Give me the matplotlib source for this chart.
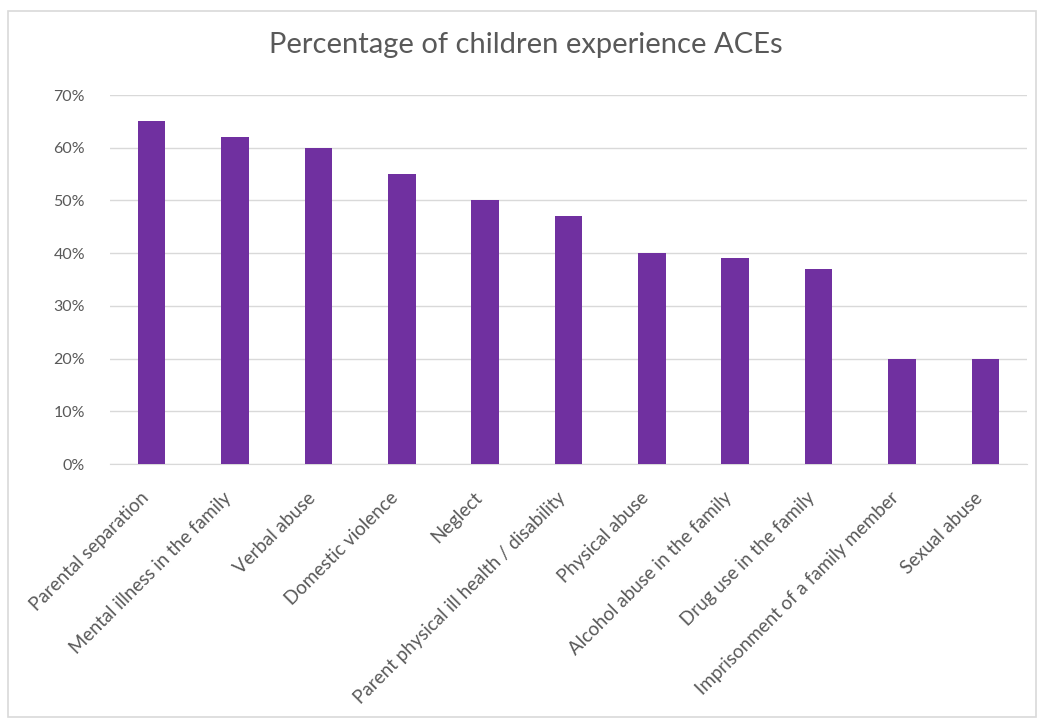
import matplotlib
matplotlib.use("Agg")
import matplotlib.pyplot as plt
from matplotlib.ticker import PercentFormatter
from matplotlib.patches import Rectangle
from matplotlib.transforms import ScaledTranslation

categories = [
    "Parental separation",
    "Mental illness in the family",
    "Verbal abuse",
    "Domestic violence",
    "Neglect",
    "Parent physical ill health / disability",
    "Physical abuse",
    "Alcohol abuse in the family",
    "Drug use in the family",
    "Imprisonment of a family member",
    "Sexual abuse",
]
values = [0.65, 0.62, 0.60, 0.55, 0.50, 0.47, 0.40, 0.39, 0.37, 0.20, 0.20]
yticks = [0.0, 0.1, 0.2, 0.3, 0.4, 0.5, 0.6, 0.7]
title = "Percentage of children experience ACEs"

plt.rcParams['font.family'] = ['Lato', 'DejaVu Sans']

W, H = 1039, 720
fig = plt.figure(figsize=(W / 100, H / 100), dpi=100)
fig.patch.set_facecolor("white")

# outer chart border
fig.add_artist(Rectangle((8 / W, 3 / H), (1036 - 8) / W, (709 - 3) / H,
                         transform=fig.transFigure, fill=False,
                         edgecolor="#d9d9d9", linewidth=1.2))

ax = fig.add_axes([110 / W, 1 - 464 / H, (1027 - 110) / W, (464 - 95) / H])
x = list(range(len(categories)))
ax.bar(x, values, width=0.33, color="#7030A0", zorder=3)

ax.set_xlim(-0.5, len(categories) - 0.5)
ax.set_ylim(0, 0.7)
ax.set_yticks(yticks)
ax.yaxis.set_major_formatter(PercentFormatter(1.0, decimals=0))
ax.grid(axis="y", color="#d9d9d9", linewidth=1.0, zorder=0)
for s in ["top", "right", "left"]:
    ax.spines[s].set_visible(False)
ax.spines["bottom"].set_color("#d9d9d9")
ax.tick_params(axis="both", length=0, colors="#595959")
ax.tick_params(axis="y", pad=18, labelsize=11.5)
ax.set_xticks(x)
ax.set_xticklabels(categories, rotation=45, ha="right", rotation_mode="anchor",
                   color="#595959", fontsize=13.5)
ax.tick_params(axis="x", pad=18)
shift = ScaledTranslation(-12 / 100, 0, fig.dpi_scale_trans)
for lbl in ax.get_xticklabels():
    lbl.set_transform(lbl.get_transform() + shift)

fig.text(0.5 + 6 / W, 1 - 45 / H, title, ha="center", va="center", fontsize=21,
         color="#595959")

fig.savefig("out.png", dpi=100)
